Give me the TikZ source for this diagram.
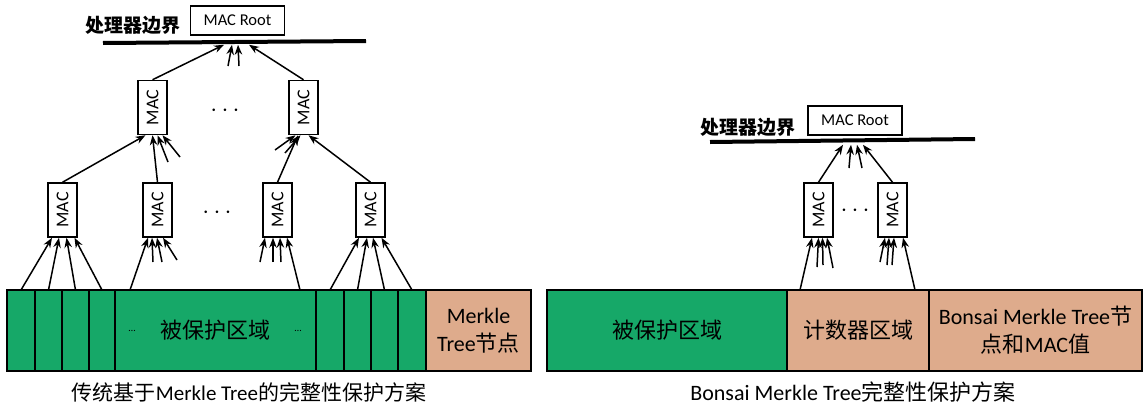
\documentclass[tikz,border=0pt]{standalone}
\usepackage{fontspec}
\usepackage{graphicx}
\setmainfont{Carlito}
\newfontfamily\cjk{Noto Sans CJK SC}
\usetikzlibrary{positioning,arrows.meta}
\definecolor{protgreen}{RGB}{22,168,104}
\definecolor{nodetan}{RGB}{222,171,140}

\begin{document}
\begin{tikzpicture}[x=1pt,y=-1pt]

    % Styles
    \tikzstyle{cell} = [rectangle, draw=black, line width=2pt, fill=protgreen, minimum height=81pt, inner sep=0pt, outer sep=0pt, text centered, align=center, font=\fontsize{22}{28}\selectfont]
    \tikzstyle{mac} = [rectangle, draw=black, line width=1.5pt, fill=white, minimum width=29pt, minimum height=54pt, inner sep=0pt, font=\fontsize{18}{20}\selectfont]
    \tikzstyle{root} = [rectangle, draw=black, line width=1.5pt, fill=white, minimum width=94pt, minimum height=29pt, inner sep=0pt, font=\fontsize{16.5}{18}\selectfont]
    \tikzstyle{cpulabel} = [font=\cjk\bfseries\fontsize{19}{22}\selectfont]
    \tikzstyle{caption} = [font=\fontsize{21}{24}\selectfont]
    \tikzstyle{ellipsis} = [font=\fontsize{27}{28}\selectfont]
    \tikzstyle{boundary} = [line width=4pt]
    \tikzstyle{arrow} = [line width=1.5pt,->,>={Stealth[length=10pt,width=7.5pt]}]

    \useasboundingbox (0,0) rectangle (1147,407);

    % Noeuds : schema classique
    \node (c1) [cell, minimum width=28pt, anchor=north west] at (7,290) {};
    \node (c2) [cell, minimum width=27pt, right=0pt of c1] {};
    \node (c3) [cell, minimum width=27pt, right=0pt of c2] {};
    \node (c4) [cell, minimum width=26pt, right=0pt of c3] {};
    \node (zone) [cell, minimum width=201pt, right=0pt of c4] {{\cjk 被保护区域}};
    \node (c5) [cell, minimum width=28pt, right=0pt of zone] {};
    \node (c6) [cell, minimum width=27pt, right=0pt of c5] {};
    \node (c7) [cell, minimum width=27pt, right=0pt of c6] {};
    \node (c8) [cell, minimum width=28pt, right=0pt of c7] {};
    \node (merkle) [cell, fill=nodetan, minimum width=105pt, right=0pt of c8] {Merkle\\Tree{\cjk 节点}};
    \node (dotsA) [font=\fontsize{10}{12}\selectfont] at (132,331) {\ldots};
    \node (dotsB) [font=\fontsize{10}{12}\selectfont] at (298,331) {\ldots};

    \node (m1) [mac] at (62.5,210) {\rotatebox{90}{MAC}};
    \node (m2) [mac] at (157.5,210) {\rotatebox{90}{MAC}};
    \node (m3) [mac] at (277.5,210) {\rotatebox{90}{MAC}};
    \node (m4) [mac] at (370.5,210) {\rotatebox{90}{MAC}};
    \node (dotsM) [ellipsis] at (217,213) {$\cdots$};

    \node (n1) [mac] at (152.5,107.5) {\rotatebox{90}{MAC}};
    \node (n2) [mac] at (303.5,107.5) {\rotatebox{90}{MAC}};
    \node (dotsN) [ellipsis] at (225,111) {$\cdots$};

    \node (rootA) [root] at (237.5,20.5) {MAC Root};
    \node (cpuA) [cpulabel] at (133,25) {处理器边界};
    \coordinate (bA1) at (103,43);
    \coordinate (bA2) at (366,41);
    \draw [boundary] (bA1) -- (bA2);

    \node (capA) [caption] at (249,392) {{\cjk 传统基于}Merkle Tree{\cjk 的完整性保护方案}};

    % Noeuds : Bonsai
    \node (zoneB) [cell, minimum width=240pt, anchor=north west] at (547,290) {{\cjk 被保护区域}};
    \node (counter) [cell, fill=nodetan, minimum width=142pt, right=0pt of zoneB] {{\cjk 计数器区域}};
    \node (bonsai) [cell, fill=nodetan, minimum width=213pt, right=0pt of counter] {Bonsai Merkle Tree{\cjk 节}\\{\cjk 点和}MAC{\cjk 值}};

    \node (p1) [mac] at (818.5,210) {\rotatebox{90}{MAC}};
    \node (p2) [mac] at (892.5,210) {\rotatebox{90}{MAC}};
    \node (dotsP) [ellipsis] at (855,211) {$\cdots$};

    \node (rootB) [root] at (855,120.5) {MAC Root};
    \node (cpuB) [cpulabel] at (748,127) {处理器边界};
    \coordinate (bB1) at (710,142);
    \coordinate (bB2) at (975,139);
    \draw [boundary] (bB1) -- (bB2);

    \node (capB) [caption, font=\fontsize{22}{24}\selectfont] at (853,392) {Bonsai Merkle Tree{\cjk 完整性保护方案}};

    % Extremites libres
    \coordinate (st1) at (228,66);
    \coordinate (st2) at (239,66);
    \coordinate (st3) at (168,162);
    \coordinate (st4) at (180,157);
    \coordinate (st5) at (275,150);
    \coordinate (st6) at (285,153);
    \coordinate (st7) at (153,262);
    \coordinate (st8) at (162,262);
    \coordinate (st9) at (177,260);
    \coordinate (st10) at (260,262);
    \coordinate (st11) at (273,262);
    \coordinate (st12) at (281,262);
    \coordinate (st13) at (849,168);
    \coordinate (st14) at (862,168);
    \coordinate (st15) at (817,267);
    \coordinate (st16) at (823,265);
    \coordinate (st17) at (833,268);
    \coordinate (st18) at (880,262);
    \coordinate (st19) at (887,265);
    \coordinate (st20) at (892,265);

    % Fleches : schema classique
    \draw [arrow] (c1.north) -- ([xshift=-10.5pt]m1.south);
    \draw [arrow] (c2.north) -- ([xshift=-3.5pt]m1.south);
    \draw [arrow] (c3.north) -- ([xshift=4pt]m1.south);
    \draw [arrow] (c4.north) -- ([xshift=12pt]m1.south);
    \draw [arrow] ([xshift=15pt]zone.north west) -- ([xshift=-9.5pt]m2.south);
    \draw [arrow] (st7) -- ([xshift=-5.5pt]m2.south);
    \draw [arrow] (st8) -- ([xshift=-0.5pt]m2.south);
    \draw [arrow] (st9) -- ([xshift=5.5pt]m2.south);
    \draw [arrow] (st10) -- ([xshift=-12.5pt]m3.south);
    \draw [arrow] (st11) -- ([xshift=-4.5pt]m3.south);
    \draw [arrow] (st12) -- ([xshift=2.5pt]m3.south);
    \draw [arrow] ([xshift=-16pt]zone.north east) -- ([xshift=9.5pt]m3.south);
    \draw [arrow] (c5.north) -- ([xshift=-11.5pt]m4.south);
    \draw [arrow] (c6.north) -- ([xshift=-3.5pt]m4.south);
    \draw [arrow] (c7.north) -- ([xshift=2.5pt]m4.south);
    \draw [arrow] (c8.north) -- ([xshift=11pt]m4.south);

    \draw [arrow] (m1.north) -- ([xshift=-7pt]n1.south);
    \draw [arrow] (m2.north) -- (n1.south);
    \draw [arrow] (st3) -- ([xshift=5pt]n1.south);
    \draw [arrow] (st4) -- ([xshift=10pt]n1.south);
    \draw [arrow] (st5) -- ([xshift=-8pt]n2.south);
    \draw [arrow] (st6) -- ([xshift=-3pt]n2.south);
    \draw [arrow] (m3.north) -- ([xshift=-5.5pt]n2.south);
    \draw [arrow] (m4.north) -- ([xshift=5pt]n2.south);

    \draw [arrow] (n1.north) -- ([xshift=-13.5pt,yshift=-9pt]rootA.south);
    \draw [arrow] (st1) -- ([xshift=-5.5pt,yshift=-9pt]rootA.south);
    \draw [arrow] (st2) -- ([xshift=0.5pt,yshift=-9pt]rootA.south);
    \draw [arrow] (n2.north) -- ([xshift=11.5pt,yshift=-9pt]rootA.south);

    % Fleches : Bonsai
    \draw [arrow] ([xshift=13pt]counter.north west) -- ([xshift=-6.5pt]p1.south);
    \draw [arrow] (st15) -- (p1.south);
    \draw [arrow] (st16) -- ([xshift=4pt]p1.south);
    \draw [arrow] (st17) -- ([xshift=8.5pt]p1.south);
    \draw [arrow] (st18) -- ([xshift=-7.5pt]p2.south);
    \draw [arrow] (st19) -- ([xshift=-3.5pt]p2.south);
    \draw [arrow] (st20) -- ([xshift=1.5pt]p2.south);
    \draw [arrow] ([xshift=-14pt]counter.north east) -- ([xshift=10.5pt]p2.south);

    \draw [arrow] (p1.north) -- ([xshift=-12pt,yshift=-9pt]rootB.south);
    \draw [arrow] (st13) -- ([xshift=-4pt,yshift=-9pt]rootB.south);
    \draw [arrow] (st14) -- ([xshift=2pt,yshift=-9pt]rootB.south);
    \draw [arrow] (p2.north) -- ([xshift=8pt,yshift=-9pt]rootB.south);

\end{tikzpicture}
\end{document}
